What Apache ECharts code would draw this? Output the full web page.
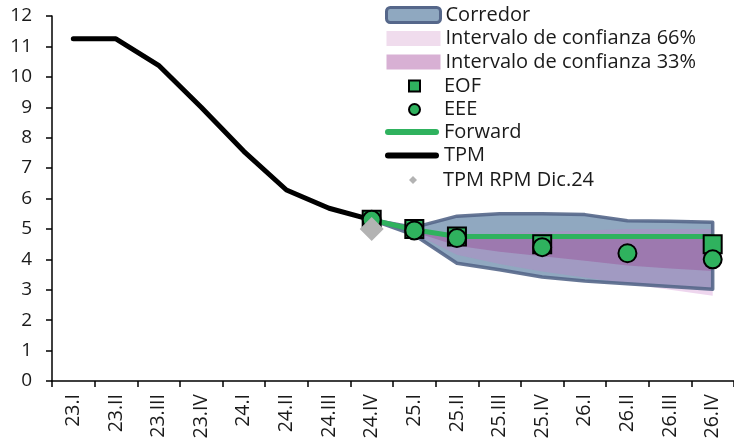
<!DOCTYPE html>
<html><head><meta charset="utf-8">
<script src="https://cdn.jsdelivr.net/npm/echarts@6/dist/echarts.min.js"></script>
<style>html,body{margin:0;padding:0;background:#fff}#c{width:734px;height:448px}</style>
</head><body><div id="c"></div>
<script>
const categories = ['23.I','23.II','23.III','23.IV','24.I','24.II','24.III','24.IV','25.I','25.II','25.III','25.IV','26.I','26.II','26.III','26.IV'];
const yTicks = [0,1,2,3,4,5,6,7,8,9,10,11,12];
const tpm     = [11.25,11.25,10.38,9.0,7.55,6.28,5.68,5.3,null,null,null,null,null,null,null,null];
const forward = [null,null,null,null,null,null,null,5.3,4.97,4.75,4.75,4.75,4.75,4.75,4.75,4.75];
const eof     = [null,null,null,null,null,null,null,5.3,5.0,4.75,null,4.5,null,null,null,4.5];
const eee     = [null,null,null,null,null,null,null,5.3,4.95,4.7,null,4.4,null,4.2,null,4.0];
const rpmDic24= [null,null,null,null,null,null,null,5.0,null,null,null,null,null,null,null,null];
// bands start at category index 7 (24.IV)
const bandStart = 7;
const corrUpper = [5.3,5.05,5.42,5.5,5.5,5.47,5.27,5.25,5.22];
const corrLower = [5.3,4.8,3.87,3.66,3.42,3.29,3.2,3.11,3.02];
const ci66Upper = [5.3,4.97,4.8,4.85,4.9,4.95,5.0,5.0,5.0];
const ci66Lower = [5.3,4.85,4.15,3.85,3.6,3.4,3.2,3.0,2.8];
const ci33Upper = [5.3,4.97,4.75,4.73,4.72,4.72,4.72,4.72,4.72];
const ci33Lower = [5.3,4.9,4.45,4.25,4.1,3.95,3.8,3.7,3.62];

const GREEN = '#2fb25e';
const FONT = 'Open Sans';
const LINE_ICON = 'path://M3,0L51,0A3,3 0 0 1 51,6L3,6A3,3 0 0 1 3,0Z';

function band(name, up, lo, style, z) {
  return {
    type: 'custom', name: name, z: z, silent: true,
    data: [[bandStart, up[0]]],
    renderItem: function (params, api) {
      const pts = [];
      for (let i = 0; i < up.length; i++) pts.push(api.coord([bandStart + i, up[i]]));
      for (let i = lo.length - 1; i >= 0; i--) pts.push(api.coord([bandStart + i, lo[i]]));
      return { type: 'polygon', shape: { points: pts }, style: style };
    }
  };
}

const chart = echarts.init(document.getElementById('c'), null, {renderer: 'canvas'});
const txt = { fontSize: 20, color: '#1a1a1a', fontFamily: FONT };
const legendBase = { orient: 'vertical', left: 385, padding: 0, itemWidth: 54, itemGap: 3.5, textStyle: txt, selectedMode: false };
function padTxt(w) {
  return { fontSize: 20, color: '#1a1a1a', fontFamily: FONT, rich: { p: { width: w, fontSize: 20, fontFamily: FONT } } };
}

chart.setOption({
  animation: false,
  textStyle: { fontFamily: FONT },
  grid: { left: 52, right: -11, top: 16, bottom: 67, containLabel: false },
  legend: [
    Object.assign({}, legendBase, { top: 5, itemHeight: 15, data: [
      { name: 'Corredor', icon: 'roundRect', itemStyle: { color: '#8fa8c0', borderColor: '#55678a', borderWidth: 3 } },
      { name: 'Intervalo de confianza 66%', icon: 'rect', itemStyle: { color: '#f0dced' } },
      { name: 'Intervalo de confianza 33%', icon: 'rect', itemStyle: { color: '#d8b0d4' } }
    ]}),
    Object.assign({}, legendBase, { top: 76, left: 408, itemWidth: 11, itemHeight: 11,
      formatter: '{p| }{name}', textStyle: padTxt(19), data: [
      { name: 'EOF', icon: 'rect' },
      { name: 'EEE', icon: 'circle' }
    ]}),
    Object.assign({}, legendBase, { top: 122, itemHeight: 6, data: [
      { name: 'Forward', icon: LINE_ICON },
      { name: 'TPM', icon: LINE_ICON }
    ]}),
    Object.assign({}, legendBase, { top: 170, left: 409, itemWidth: 8, itemHeight: 8,
      formatter: '{p| }{name}', textStyle: padTxt(21), data: [
      { name: 'TPM RPM Dic.24', icon: 'diamond' }
    ]})
  ],
  xAxis: {
    type: 'category', data: categories, boundaryGap: true,
    axisLine: { lineStyle: { color: '#000', width: 1.5 } },
    axisTick: { show: true, length: 6, inside: false, lineStyle: { color: '#000', width: 1.5 } },
    axisLabel: { interval: 0, rotate: 90, margin: 13, fontSize: 19.5, color: '#1a1a1a', fontFamily: FONT },
    splitLine: { show: false }
  },
  yAxis: {
    type: 'value', min: yTicks[0], max: yTicks[yTicks.length - 1], interval: 1,
    axisLine: { show: true, lineStyle: { color: '#000', width: 1.5 } },
    axisTick: { show: true, length: 6, lineStyle: { color: '#000', width: 1.5 } },
    axisLabel: { margin: 20, fontSize: 19, color: '#1a1a1a', fontFamily: FONT },
    splitLine: { show: false }
  },
  series: [
    Object.assign(band('Corredor', corrUpper, corrLower, { fill: 'rgba(70,110,150,0.6)', stroke: null }, 1), { itemStyle: { color: '#8fa8c0' } }),
    Object.assign(band('Intervalo de confianza 66%', ci66Upper, ci66Lower, { fill: 'rgba(200,120,200,0.3)', stroke: null }, 2), { itemStyle: { color: '#f0dced' } }),
    Object.assign(band('Intervalo de confianza 33%', ci33Upper, ci33Lower, { fill: 'rgba(150,60,140,0.35)', stroke: null }, 3), { itemStyle: { color: '#d8b0d4' } }),
    band('corridor-border', corrUpper, corrLower, { fill: null, stroke: '#55678a', lineWidth: 3.5, lineJoin: 'round', opacity: 0.9 }, 4),
    { name: 'TPM', type: 'line', data: tpm, z: 5, symbol: 'none', connectNulls: false,
      lineStyle: { color: '#000', width: 5, cap: 'round', join: 'round' }, itemStyle: { color: '#000' } },
    { name: 'Forward', type: 'line', data: forward, z: 6, symbol: 'none',
      lineStyle: { color: GREEN, width: 5, cap: 'round', join: 'round' }, itemStyle: { color: GREEN } },
    { name: 'EOF', type: 'scatter', data: eof, z: 7, symbol: 'rect', symbolSize: 18,
      itemStyle: { color: GREEN, borderColor: '#000', borderWidth: 2, opacity: 1 } },
    { name: 'EEE', type: 'scatter', data: eee, z: 8, symbol: 'circle', symbolSize: 18,
      itemStyle: { color: GREEN, borderColor: '#000', borderWidth: 2, opacity: 1 } },
    { name: 'TPM RPM Dic.24', type: 'scatter', data: rpmDic24, z: 9, symbol: 'diamond', symbolSize: 24,
      itemStyle: { color: '#b3b3b3', opacity: 1 } }
  ]
});
</script></body></html>
